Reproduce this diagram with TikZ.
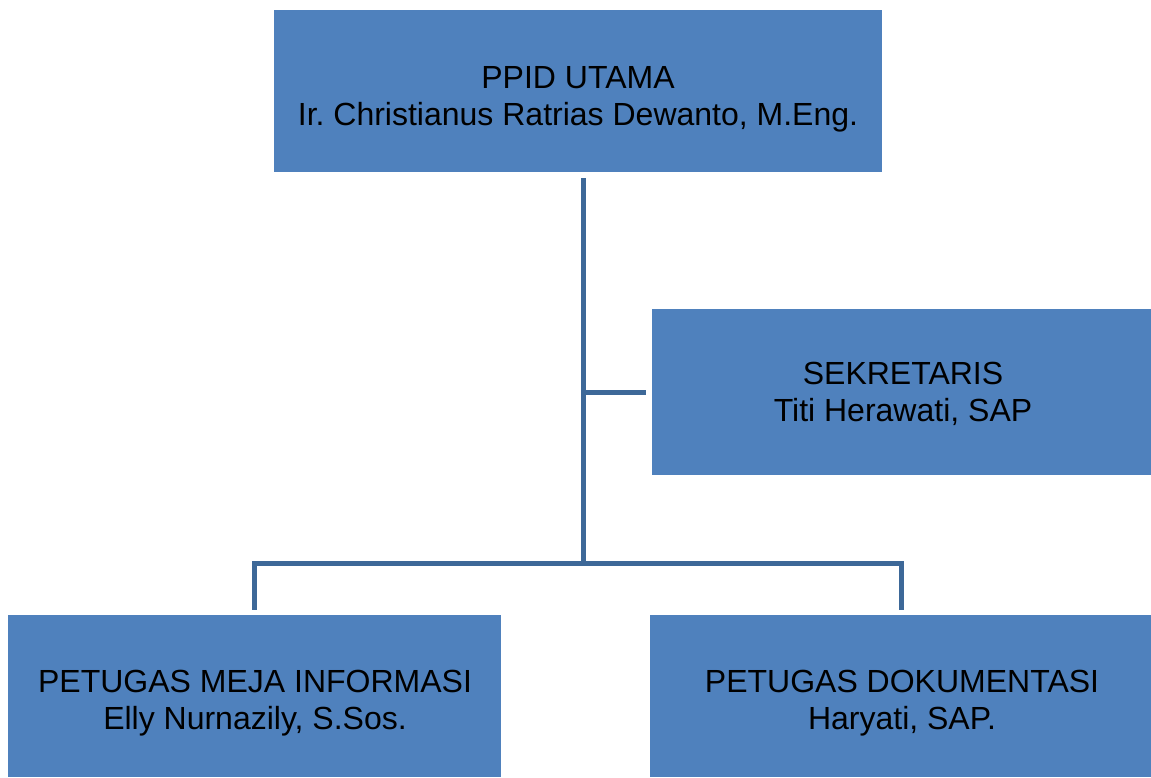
\documentclass[tikz,border=0pt]{standalone}
\usepackage{fontspec}
\setmainfont{Liberation Sans}
\usepackage{xcolor}
\definecolor{kotakbiru}{HTML}{4F81BD}
\definecolor{garisbiru}{HTML}{3D6898}
\frenchspacing
\begin{document}
\begin{tikzpicture}[x=1pt,y=-1pt,
  kotak/.style={fill=kotakbiru, draw=none, inner sep=0pt},
  teks/.style={align=center, text=black, font=\fontsize{32}{37}\selectfont},
  garis/.style={draw=garisbiru, line width=5pt}]
\useasboundingbox (0,0) rectangle (1151,777);
\node [kotak, minimum width=608pt, minimum height=162pt] (utama) at (578,91) {};
\node [kotak, minimum width=499pt, minimum height=166pt] (sek) at (901.5,392) {};
\node [kotak, minimum width=493pt, minimum height=162pt] (meja) at (254.5,696) {};
\node [kotak, minimum width=503pt, minimum height=162pt] (dok) at (901,696) {};
% isi kotak
\node [teks] (utama-t) at (578,99) {PPID UTAMA\\Ir. Christianus Ratrias Dewanto, M.Eng.};
\node [teks] (sek-t) at (903,394) {SEKRETARIS\\Titi Herawati, SAP};
\node [teks] (meja-t) at (255,703) {PETUGAS MEJA INFORMASI\\Elly Nurnazily, S.Sos.};
\node [teks] (dok-t) at (902,703) {PETUGAS DOKUMENTASI\\Haryati, SAP.};
\coordinate (tengah) at (583,563);
\coordinate (cabang) at (583,392);
\draw [garis, shorten <=6pt] (utama.south -| tengah) -- (tengah);
\draw [garis, shorten >=6pt] (cabang) -- (sek.west);
\draw [garis, shorten <=5pt, shorten >=5pt] (meja.north) |- (tengah) -| (dok.north);
\end{tikzpicture}
\end{document}
